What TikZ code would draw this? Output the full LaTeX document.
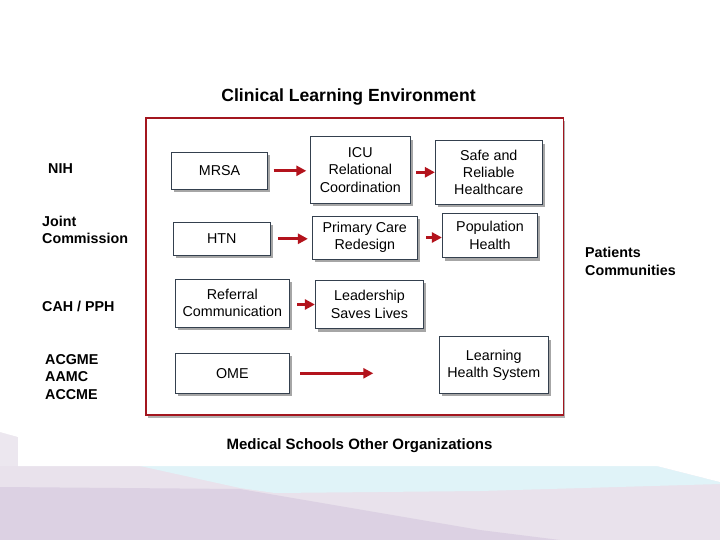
\documentclass[tikz,border=0pt]{standalone}
\usepackage{fontspec}
\setmainfont{Liberation Sans}
\usetikzlibrary{arrows.meta,shadows,calc}
\definecolor{framered}{HTML}{A3161F}
\definecolor{arrred}{HTML}{B3131C}
\definecolor{boxline}{HTML}{34404E}
\definecolor{lavlight}{HTML}{E9E2EC}
\definecolor{lavdark}{HTML}{DCD1E3}
\definecolor{cyanband}{HTML}{E0F3F8}
\definecolor{leftstrip}{HTML}{ECE7EF}
\tikzset{
  box/.style={draw=boxline, line width=0.8pt, fill=white, align=center,
    font=\fontsize{14.3}{17.3}\selectfont, inner sep=0pt,
    drop shadow={shadow xshift=2.5pt, shadow yshift=-3pt, fill=black, opacity=0.35}},
  arr/.style={draw=arrred, line width=2.8pt, -{Triangle[length=10pt,width=10pt]}},
  lbl/.style={font=\bfseries\fontsize{14.3}{17.5}\selectfont, align=left, inner sep=0pt, anchor=west},
  ttl/.style={font=\bfseries\fontsize{17.6}{20}\selectfont, inner sep=0pt},
  btl/.style={font=\bfseries\fontsize{15}{18}\selectfont, inner sep=0pt},
}
\begin{document}
\begin{tikzpicture}[x=1pt,y=-1pt]
\useasboundingbox (0,0) rectangle (720,540);
% background
\fill[lavlight] (0,0) rectangle (720,540);
\fill[lavdark] (0,487) -- (240,489) -- (480,530) -- (560,540) -- (0,540) -- cycle;
\fill[cyanband] (140,466) -- (657,466) -- (720,482) -- (720,484) -- (480,491) -- (275,493) -- (240,488) -- cycle;
\fill[leftstrip] (0,432) -- (18,437) -- (18,466) -- (0,466) -- cycle;
\fill[white] (0,0) -- (720,0) -- (720,482) -- (657,466) -- (18,466) -- (18,437) -- (0,432) -- cycle;
% frame
\node[draw=framered, line width=1.6pt, fill=white, minimum width=417.3pt, minimum height=296.7pt, inner sep=0pt,
  drop shadow={shadow xshift=2pt, shadow yshift=-3pt, fill=black, opacity=0.3}] (frame) at (354.65,266.65) {};
% titles
\node[ttl] (title) at (348.5,97) {Clinical Learning Environment};
\node[btl] (bottom) at (359.5,446) {Medical Schools Other Organizations};
% side labels
\node[lbl] (nih) at (48,169) {NIH};
\node[lbl] (joint) at (42,230) {Joint\\Commission};
\node[lbl] (cah) at (42,306) {CAH / PPH};
\node[lbl] (acgme) at (45,377) {ACGME\\AAMC\\ACCME};
\node[lbl] (pat) at (585,261.5) {Patients\\Communities};
% boxes
\node[box, minimum width=95.6pt, minimum height=37pt] (mrsa) at (219.5,170.8) {MRSA};
\node[box, minimum width=100pt, minimum height=66.6pt] (icu) at (360.3,170) {ICU\\Relational\\Coordination};
\node[box, minimum width=107pt, minimum height=63.3pt] (safe) at (488.8,172.3) {Safe and\\Reliable\\Healthcare};
\node[box, minimum width=96.7pt, minimum height=33pt] (htn) at (221.7,238.8) {HTN};
\node[box, minimum width=105pt, minimum height=43pt] (pc) at (364.8,237.5) {Primary Care\\Redesign};
\node[box, minimum width=95.4pt, minimum height=44.4pt] (pop) at (490,235.5) {Population\\Health};
\node[box, minimum width=114pt, minimum height=48.3pt] (ref) at (232.3,303.2) {Referral\\Communication};
\node[box, minimum width=108.4pt, minimum height=48.4pt] (lead) at (369.5,304.5) {Leadership\\Saves Lives};
\node[box, minimum width=114pt, minimum height=40pt] (ome) at (232.3,373.3) {OME};
\node[box, minimum width=109pt, minimum height=56.6pt] (learn) at (493.8,365) {Learning\\Health System};
\coordinate (omeend) at (373.3,373.3);
% arrows
\draw[arr, shorten <=6pt, shorten >=3.6pt] (mrsa.east) -- (mrsa.east -| icu.west);
\draw[arr, shorten <=5.4pt] (safe.west -| icu.east) -- (safe.west);
\draw[arr, shorten <=7.7pt, shorten >=4pt] (htn.east) -- (htn.east -| pc.west);
\draw[arr, shorten <=8.4pt] (pc.east) -- (pc.east -| pop.west);
\draw[arr, shorten <=7.4pt] (lead.west -| ref.east) -- (lead.west);
\draw[arr, shorten <=10.7pt] (ome.east) -- (omeend);
\end{tikzpicture}
\end{document}
